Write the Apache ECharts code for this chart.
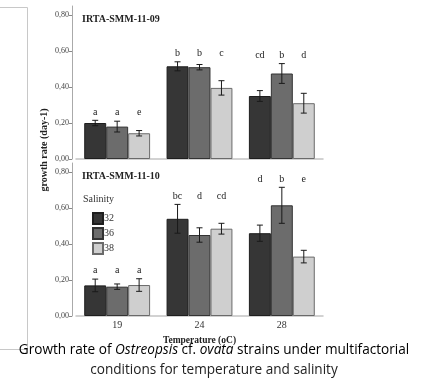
<!DOCTYPE html>
<html>
<head>
<meta charset="utf-8">
<script src="https://cdn.jsdelivr.net/npm/echarts@6/dist/echarts.min.js"></script>
<style>
html,body{margin:0;padding:0;background:#fff;}
#chart{width:428px;height:392px;}
</style>
</head>
<body>
<div id="chart"></div>
<script>
// ---- data ----
var temperatures = ['19', '24', '28'];
var salinities = ['32', '36', '38'];
var yTicks = [0, 0.2, 0.4, 0.6, 0.8];

// strain IRTA-SMM-11-09
var s09_32 = [0.200, 0.515, 0.350];
var s09_36 = [0.180, 0.510, 0.475];
var s09_38 = [0.143, 0.395, 0.310];
var e09_32 = [0.015, 0.025, 0.030];
var e09_36 = [0.030, 0.015, 0.055];
var e09_38 = [0.015, 0.040, 0.055];
var l09_32 = ['a', 'b', 'cd'];
var l09_36 = ['a', 'b', 'b'];
var l09_38 = ['e', 'c', 'd'];

// strain IRTA-SMM-11-10
var s10_32 = [0.170, 0.540, 0.460];
var s10_36 = [0.163, 0.450, 0.615];
var s10_38 = [0.172, 0.485, 0.330];
var e10_32 = [0.035, 0.080, 0.045];
var e10_36 = [0.015, 0.040, 0.100];
var e10_38 = [0.035, 0.030, 0.035];
var l10_32 = ['a', 'bc', 'd'];
var l10_36 = ['a', 'd', 'b'];
var l10_38 = ['a', 'cd', 'e'];

// ---- styling ----
var fills = ['#363636', '#6c6c6c', '#cfcfcf'];
var borders = ['#1e1e1e', '#333333', '#6a6a6a'];
var serif = '"Liberation Serif", "DejaVu Serif", serif';
var GAP = 0.2;

var chart = echarts.init(document.getElementById('chart'), null, {renderer: 'canvas'});

function groupMax(vals, errs) {
  return temperatures.map(function (_, i) {
    var m = 0;
    for (var k = 0; k < vals.length; k++) m = Math.max(m, vals[k][i] + errs[k][i]);
    return m;
  });
}

function barSeries(g, k, vals) {
  return {
    type: 'bar', name: salinities[k], xAxisIndex: g, yAxisIndex: g,
    data: vals, barGap: '0%', barCategoryGap: (GAP * 100) + '%',
    itemStyle: {color: fills[k], borderColor: borders[k], borderWidth: 1},
    silent: true
  };
}

function errSeries(g, k, vals, errs, letters, gmax) {
  return {
    type: 'custom', xAxisIndex: g, yAxisIndex: g, z: 10, silent: true,
    data: vals.map(function (v, i) { return [i, v, errs[i], gmax[i]]; }),
    renderItem: function (params, api) {
      var i = api.value(0), v = api.value(1), e = api.value(2), gm = api.value(3);
      var c = api.coord([i, v]);
      var band = api.size([1, 0])[0];
      var bw = band * (1 - GAP) / 3;
      var x = c[0] + (k - 1) * bw;
      var yt = api.coord([i, v + e])[1];
      var yb = api.coord([i, v - e])[1];
      var yl = api.coord([i, gm])[1] - 8;
      var st = {stroke: '#1a1a1a', lineWidth: 1};
      return {
        type: 'group',
        children: [
          {type: 'line', shape: {x1: x, y1: yt, x2: x, y2: yb}, style: st},
          {type: 'line', shape: {x1: x - 3, y1: yt, x2: x + 3, y2: yt}, style: st},
          {type: 'line', shape: {x1: x - 3, y1: yb, x2: x + 3, y2: yb}, style: st},
          {type: 'text', style: {text: letters[params.dataIndex], x: x, y: yl,
            align: 'center', verticalAlign: 'middle',
            font: '10px ' + serif, fill: '#222'}}
        ]
      };
    }
  };
}

function yAxisFor(g) {
  return {
    type: 'value', gridIndex: g, min: 0, max: 0.85, offset: 4,
    axisLine: {show: true, lineStyle: {color: '#aaaaaa', width: 1}},
    axisTick: {show: true, length: 3, customValues: yTicks, lineStyle: {color: '#888'}},
    axisLabel: {customValues: yTicks, margin: 3, fontFamily: serif, fontSize: 8, color: '#444',
      formatter: function (v) { return v.toFixed(2).replace('.', ','); }},
    splitLine: {show: false}
  };
}

function xAxisFor(g, showLabels) {
  return {
    type: 'category', gridIndex: g, data: temperatures,
    axisLine: {show: true, lineStyle: {color: '#c4c4c4', width: 1.5}},
    axisTick: {show: false},
    axisLabel: {show: showLabels, margin: 4, fontFamily: serif, fontSize: 10, color: '#333'},
    name: showLabels ? 'Temperature (oC)' : '', nameLocation: 'middle', nameGap: 20,
    nameTextStyle: {fontFamily: serif, fontSize: 9.5, fontWeight: 'bold', color: '#222'}
  };
}

var v09 = [s09_32, s09_36, s09_38], er09 = [e09_32, e09_36, e09_38], lt09 = [l09_32, l09_36, l09_38];
var v10 = [s10_32, s10_36, s10_38], er10 = [e10_32, e10_36, e10_38], lt10 = [l10_32, l10_36, l10_38];
var gm09 = groupMax(v09, er09), gm10 = groupMax(v10, er10);

var series = [];
for (var k = 0; k < 3; k++) series.push(barSeries(0, k, v09[k]));
for (var k2 = 0; k2 < 3; k2++) series.push(barSeries(1, k2, v10[k2]));
for (var k3 = 0; k3 < 3; k3++) series.push(errSeries(0, k3, v09[k3], er09[k3], lt09[k3], gm09));
for (var k4 = 0; k4 < 3; k4++) series.push(errSeries(1, k4, v10[k4], er10[k4], lt10[k4], gm10));

var capFont = '"Open Sans", sans-serif';
var capSize = 13.6;

var option = {
  animation: false,
  backgroundColor: '#ffffff',
  title: [
    {text: 'IRTA-SMM-11-09', left: 77, top: 9, textStyle: {fontFamily: serif, fontSize: 10, fontWeight: 'bold', color: '#222'}},
    {text: 'IRTA-SMM-11-10', left: 77, top: 166, textStyle: {fontFamily: serif, fontSize: 10, fontWeight: 'bold', color: '#222'}}
  ],
  legend: {
    data: salinities, orient: 'vertical', left: 87, top: 207,
    itemWidth: 10, itemHeight: 11, itemGap: 2, icon: 'rect',
    textStyle: {fontFamily: serif, fontSize: 10, color: '#333', padding: [0, 0, 0, -4]},
    selectedMode: false
  },
  grid: [
    {left: 76, width: 247, top: 6, height: 153},
    {left: 76, width: 247, top: 163, height: 153}
  ],
  xAxis: [xAxisFor(0, false), xAxisFor(1, true)],
  yAxis: [yAxisFor(0), yAxisFor(1)],
  series: series,
  graphic: [
    {type: 'text', x: 83, y: 199, style: {text: 'Salinity', font: '10px ' + serif, fill: '#333', verticalAlign: 'middle'}},
    {type: 'text', x: 44, y: 150, rotation: Math.PI / 2,
      style: {text: 'growth rate (day-1)', font: 'bold 10px ' + serif, fill: '#222', align: 'center', verticalAlign: 'middle'}},
    {type: 'polyline', shape: {points: [[0, 7.5], [27.5, 7.5], [27.5, 349.5], [0, 349.5]]},
      style: {stroke: '#c8c8c8', lineWidth: 1, fill: null}},
    {type: 'text', x: 214, y: 350, z: 5,
      style: {
        text: '{n|Growth rate of }{i|Ostreopsis}{n| cf. }{i|ovata}{n| strains under multifactorial}',
        align: 'center', verticalAlign: 'middle',
        rich: {
          n: {fontFamily: capFont, fontSize: capSize, color: '#222'},
          i: {fontFamily: capFont, fontSize: capSize, fontStyle: 'italic', color: '#222'}
        }
      }},
    {type: 'text', x: 214, y: 370,
      style: {text: 'conditions for temperature and salinity', align: 'center', verticalAlign: 'middle',
        font: capSize + 'px ' + capFont, fill: '#222'}}
  ]
};
chart.setOption(option);
</script>
</body>
</html>
